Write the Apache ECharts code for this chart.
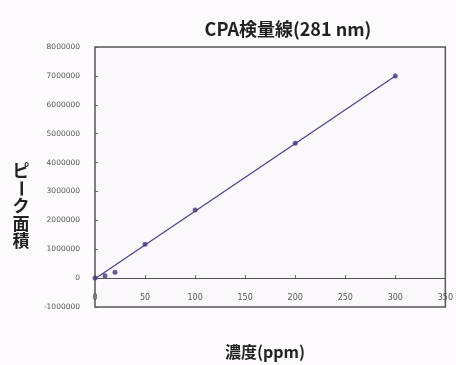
<!DOCTYPE html>
<html><head><meta charset="utf-8">
<script src="https://cdn.jsdelivr.net/npm/echarts@6/dist/echarts.min.js"></script>
<style>html,body{margin:0;padding:0;background:#fdfbfd}#c{width:456px;height:365px}</style>
</head><body><div id="c"></div>
<script>
var concentrations = [0, 10, 20, 50, 100, 200, 300];
var peakAreas = [0, 80000, 200000, 1170000, 2360000, 4670000, 7000000];
var trendX = [0, 300];
var trendY = [-20000, 7000000];
var yTitleChars = ['ピ', 'ー', 'ク', '面', '積'];

var chart = echarts.init(document.getElementById('c'));
var font = '"Noto Sans CJK JP", "Noto Sans", sans-serif';
var graphics = yTitleChars.map(function (ch, i) {
  var isBar = ch === 'ー';
  return {
    type: 'text', x: 21, y: 171 + i * 17.5, rotation: isBar ? -Math.PI / 2 : 0,
    style: { text: ch, font: 'bold 17px ' + font, fill: '#222', align: 'center', verticalAlign: 'middle' }
  };
});
chart.setOption({
  backgroundColor: '#fdfbfd',
  animation: false,
  title: {
    text: 'CPA検量線(281 nm)', left: 283, top: 15, textAlign: 'center',
    textStyle: { fontFamily: font, fontSize: 18, fontWeight: 'bold', color: '#222' }
  },
  graphic: graphics.concat([{
    type: 'text', x: 265, y: 352,
    style: { text: '濃度(ppm)', font: 'bold 16px ' + font, fill: '#222', align: 'center', verticalAlign: 'middle' }
  }]),
  grid: { left: 95, right: 9, top: 47, bottom: 58, show: true, borderColor: '#555', borderWidth: 1.5, backgroundColor: '#fbf8fc' },
  xAxis: {
    type: 'value', min: 0, max: 350, interval: 50,
    axisLine: { onZero: true, lineStyle: { color: '#555', width: 1.2 } },
    axisTick: { inside: true, length: 3, lineStyle: { color: '#666' } },
    axisLabel: { margin: -13, fontSize: 8, color: '#555', fontFamily: 'DejaVu Sans' },
    splitLine: { show: false }
  },
  yAxis: {
    type: 'value', min: -1000000, max: 8000000, interval: 1000000,
    axisLine: { show: false },
    axisTick: { show: true, inside: true, length: 3, lineStyle: { color: '#666' } },
    axisLabel: { margin: 15, fontSize: 7.5, color: '#555', fontFamily: 'DejaVu Sans', formatter: function (v) { return String(v); } },
    splitLine: { show: false }
  },
  series: [{
    type: 'line', data: trendX.map(function (x, i) { return [x, trendY[i]]; }),
    symbol: 'none', lineStyle: { color: '#4a3f8c', width: 1.2 }, z: 2
  }, {
    type: 'scatter', data: concentrations.map(function (x, i) { return [x, peakAreas[i]]; }),
    symbolSize: 5, itemStyle: { color: '#4a3577' }, z: 3
  }]
});
</script></body></html>
